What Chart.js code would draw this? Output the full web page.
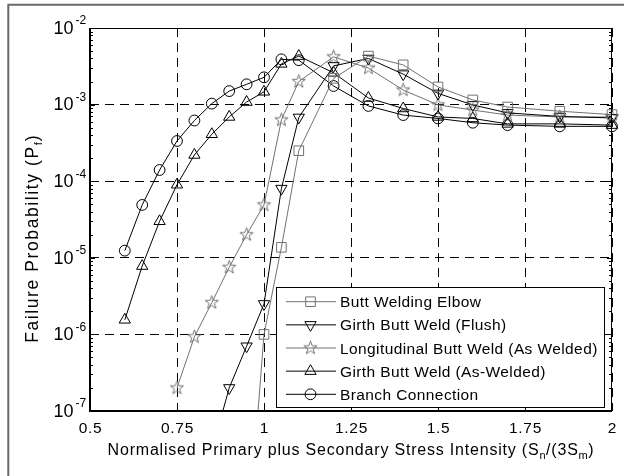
<!DOCTYPE html>
<html>
<head>
<meta charset="utf-8">
<script src="https://cdn.jsdelivr.net/npm/chart.js@4/dist/chart.umd.min.js"></script>
<style>
  html, body { margin: 0; padding: 0; background: #fff; }
</style>
</head>
<body>
<canvas id="myChart" width="624" height="476"></canvas>
<script>
// stress ratio Sn/(3Sm) for every sample
const stress = [0.6, 0.65, 0.7, 0.75, 0.8, 0.85, 0.9, 0.95, 1.0, 1.05, 1.1, 1.2, 1.3, 1.4, 1.5, 1.6, 1.7, 1.85, 2.0];

// failure probability per component (null = not plotted)
const buttWeldingElbow = [null, null, null, null, null, null, null, 1.2e-9, 1.0e-6, 1.37e-5, 2.5e-4, 2.2e-3, 4.3e-3, 3.3e-3, 1.7e-3, 1.15e-3, 9.3e-4, 8.2e-4, 7.4e-4];
const girthFlush = [null, null, null, null, null, 3e-8, 2.0e-7, 7.0e-7, 2.5e-6, 8.0e-5, 6.8e-4, 3.2e-3, 4.0e-3, 2.5e-3, 1.4e-3, 9.9e-4, 7.8e-4, 7.0e-4, 6.7e-4];
const longitudinalWeld = [null, null, null, 2.0e-7, 9.3e-7, 2.6e-6, 7.5e-6, 2.0e-5, 4.9e-5, 6.3e-4, 2.0e-3, 4.2e-3, 3.0e-3, 1.55e-3, 9.9e-4, 8.5e-4, 7.3e-4, 6.9e-4, 6.9e-4];
const girthAsWelded = [1.55e-6, 7.8e-6, 3.0e-5, 9.0e-5, 2.2e-4, 4.1e-4, 6.9e-4, 1.08e-3, 1.47e-3, 3.4e-3, 4.3e-3, 2.6e-3, 1.22e-3, 8.9e-4, 6.9e-4, 6.6e-4, 5.6e-4, 5.6e-4, 5.4e-4];
const branchConnection = [1.24e-5, 4.9e-5, 1.4e-4, 3.35e-4, 6.2e-4, 1.03e-3, 1.5e-3, 1.84e-3, 2.27e-3, 3.9e-3, 3.8e-3, 1.75e-3, 9.6e-4, 7.3e-4, 6.6e-4, 5.8e-4, 5.4e-4, 5.2e-4, 5.2e-4];

const seriesNames = ['Butt Welding Elbow', 'Girth Butt Weld (Flush)', 'Longitudinal Butt Weld (As Welded)', 'Girth Butt Weld (As-Welded)', 'Branch Connection'];
const xTickValues = [0.5, 0.75, 1, 1.25, 1.5, 1.75, 2];
const yTickExponents = [-7, -6, -5, -4, -3, -2];

const FONT = "'Liberation Sans', Arial, Helvetica, sans-serif";
const GREY = '#727272';

function setFont(ctx, size, spacing) {
  ctx.font = size + 'px ' + FONT;
  if ('letterSpacing' in ctx) ctx.letterSpacing = (spacing || 0) + 'px';
}

// parts: [text, size, dy, spacing]
function drawRich(ctx, parts, cx, baseline) {
  let total = 0;
  const widths = parts.map(p => {
    setFont(ctx, p[1], p[3]);
    const w = ctx.measureText(p[0]).width;
    total += w;
    return w;
  });
  let x = cx - total / 2;
  ctx.textAlign = 'left';
  ctx.textBaseline = 'alphabetic';
  parts.forEach((p, i) => {
    setFont(ctx, p[1], p[3]);
    ctx.fillText(p[0], x, baseline + p[2]);
    x += widths[i];
  });
}

// pentagram marker (matlab 'p')
function makeStar(color) {
  const c = document.createElement('canvas');
  c.width = 17; c.height = 17;
  const g = c.getContext('2d');
  g.strokeStyle = color;
  g.lineWidth = 1;
  g.beginPath();
  for (let i = 0; i < 10; i++) {
    const r = i % 2 === 0 ? 7 : 2.8;
    const a = -Math.PI / 2 + i * Math.PI / 5;
    const px = 8.5 + r * Math.cos(a), py = 8.5 + r * Math.sin(a);
    if (i === 0) g.moveTo(px, py); else g.lineTo(px, py);
  }
  g.closePath();
  g.stroke();
  return c;
}

function toPoints(values) {
  return stress.map((x, i) => ({ x: x, y: values[i] }));
}

function makeDataset(label, values, color, style, radius, rotation) {
  return {
    label: label,
    data: toPoints(values),
    borderColor: color,
    backgroundColor: 'rgba(0,0,0,0)',
    borderWidth: 1,
    pointStyle: style,
    pointRadius: radius,
    pointRotation: rotation || 0,
    pointBorderColor: color,
    pointBackgroundColor: 'rgba(0,0,0,0)',
    pointBorderWidth: 1,
    tension: 0,
    clip: { left: 0, top: 0, right: 8, bottom: 0 }
  };
}

const datasets = [
  makeDataset(seriesNames[0], buttWeldingElbow, GREY, 'rect', 6.8),
  makeDataset(seriesNames[1], girthFlush, '#000', 'triangle', 6.5, 180),
  makeDataset(seriesNames[2], longitudinalWeld, GREY, makeStar(GREY), 7),
  makeDataset(seriesNames[3], girthAsWelded, '#000', 'triangle', 6.5),
  makeDataset(seriesNames[4], branchConnection, '#000', 'circle', 5.4)
];

function isDecade(v) {
  const l = Math.log10(v);
  return Math.abs(l - Math.round(l)) < 1e-6;
}

const figurePlugin = {
  id: 'figure',
  beforeDraw(chart) {
    const ctx = chart.ctx;
    ctx.save();
    ctx.fillStyle = '#fff';
    ctx.fillRect(0, 0, chart.width, chart.height);
    ctx.strokeStyle = '#6a6a6a';
    ctx.lineWidth = 2;
    ctx.beginPath();
    ctx.moveTo(8.3, chart.height);
    ctx.lineTo(8.3, 4.8);
    ctx.lineTo(chart.width, 4.8);
    ctx.stroke();
    ctx.restore();
  },
  afterDraw(chart) {
    const ctx = chart.ctx;
    const a = chart.chartArea;
    const xs = chart.scales.x, ys = chart.scales.y;
    ctx.save();

    // axes box
    ctx.strokeStyle = '#000';
    ctx.lineWidth = 1;
    ctx.beginPath();
    ctx.moveTo(a.left, a.top + 0.5); ctx.lineTo(a.right, a.top + 0.5);
    ctx.moveTo(a.right - 0.5, a.top); ctx.lineTo(a.right - 0.5, a.bottom);
    ctx.stroke();
    ctx.lineWidth = 2;
    ctx.beginPath();
    ctx.moveTo(a.left, a.top); ctx.lineTo(a.left, a.bottom);
    ctx.lineTo(a.right, a.bottom);
    ctx.stroke();

    // inner ticks
    ctx.lineWidth = 1;
    ctx.beginPath();
    xTickValues.forEach(v => {
      const px = Math.round(xs.getPixelForValue(v)) + 0.5;
      ctx.moveTo(px, a.bottom); ctx.lineTo(px, a.bottom - 5);
      ctx.moveTo(px, a.top); ctx.lineTo(px, a.top + 5);
    });
    yTickExponents.forEach(e => {
      const py = Math.round(ys.getPixelForValue(Math.pow(10, e))) + 0.5;
      ctx.moveTo(a.left, py); ctx.lineTo(a.left + 5, py);
      ctx.moveTo(a.right, py); ctx.lineTo(a.right - 5, py);
      if (e < -2) {
        for (let k = 2; k <= 9; k++) {
          const pm = Math.round(ys.getPixelForValue(k * Math.pow(10, e))) + 0.5;
          ctx.moveTo(a.left, pm); ctx.lineTo(a.left + 3, pm);
          ctx.moveTo(a.right, pm); ctx.lineTo(a.right - 3, pm);
        }
      }
    });
    ctx.stroke();

    ctx.fillStyle = '#000';

    // x tick labels
    xTickValues.forEach(v => {
      drawRich(ctx, [[String(v), 15.5, 0, 0.7]], xs.getPixelForValue(v) + 0.5, a.bottom + 21.7);
    });

    // y tick labels 10^e
    yTickExponents.forEach(e => {
      const py = ys.getPixelForValue(Math.pow(10, e));
      setFont(ctx, 18, 0);
      ctx.textAlign = 'right';
      ctx.fillText('10', 73.5, py + 5.8);
      setFont(ctx, 12, 0);
      ctx.textAlign = 'left';
      ctx.fillText(String(e), 75.5, py - 3.7);
    });

    // x axis title
    drawRich(ctx, [
      ['Normalised Primary plus Secondary Stress Intensity (S', 16, 0, 0.8],
      ['n', 11, 4, 0.5],
      ['/(3S', 16, 0, 0.8],
      ['m', 11, 4, 0.5],
      [')', 16, 0, 0.8]
    ], (a.left + a.right) / 2, 455);

    // y axis title
    ctx.save();
    ctx.translate(38.3, 238.3);
    ctx.rotate(-Math.PI / 2);
    drawRich(ctx, [
      ['Failure Probability (P', 17.5, 0, 1.6],
      ['f', 11, 4, 1],
      [')', 17.5, 0, 1.6]
    ], 0, 0);
    ctx.restore();

    // legend
    const box = { left: a.right - 336, top: a.bottom - 124, right: a.right - 7, bottom: a.bottom - 3 };
    ctx.fillStyle = '#fff';
    ctx.fillRect(box.left, box.top, box.right - box.left, box.bottom - box.top);
    ctx.strokeStyle = '#000';
    ctx.lineWidth = 1;
    ctx.strokeRect(box.left + 0.5, box.top + 0.5, box.right - box.left - 1, box.bottom - box.top - 1);
    chart.data.datasets.forEach((ds, i) => {
      const cy = box.top + 14.7 + i * 23.15;
      const lx = box.left + 10;
      ctx.strokeStyle = ds.borderColor;
      ctx.lineWidth = 1;
      ctx.beginPath();
      ctx.moveTo(lx, cy); ctx.lineTo(lx + 50, cy);
      ctx.stroke();
      ctx.fillStyle = 'rgba(0,0,0,0)';
      Chart.helpers.drawPoint(ctx, {
        pointStyle: ds.pointStyle,
        radius: ds.pointRadius,
        rotation: ds.pointRotation,
        borderWidth: 1
      }, lx + 24.5, cy);
      ctx.fillStyle = '#000';
      setFont(ctx, 15.5, 0.4);
      ctx.textAlign = 'left';
      ctx.textBaseline = 'alphabetic';
      ctx.fillText(ds.label, box.left + 64, cy + 5.6);
    });

    ctx.restore();
  }
};

new Chart(document.getElementById('myChart').getContext('2d'), {
  type: 'line',
  data: { datasets: datasets },
  options: {
    responsive: false,
    devicePixelRatio: 1,
    animation: false,
    events: [],
    layout: { padding: { left: 0, top: 28, right: 12, bottom: 0 } },
    plugins: { legend: { display: false }, tooltip: { enabled: false } },
    scales: {
      x: {
        type: 'linear',
        min: 0.5,
        max: 2,
        afterFit: s => { s.height = 65; },
        ticks: { display: false, stepSize: 0.25 },
        grid: { color: '#000', lineWidth: 1, drawTicks: false },
        border: { display: false, dash: [9, 6] }
      },
      y: {
        type: 'logarithmic',
        min: 1e-7,
        max: 1e-2,
        afterFit: s => { s.width = 90; },
        ticks: { display: false },
        grid: {
          color: c => (c.tick && isDecade(c.tick.value)) ? '#000' : 'rgba(0,0,0,0)',
          lineWidth: 1,
          drawTicks: false
        },
        border: { display: false, dash: [9, 6] }
      }
    }
  },
  plugins: [figurePlugin]
});
</script>
</body>
</html>
